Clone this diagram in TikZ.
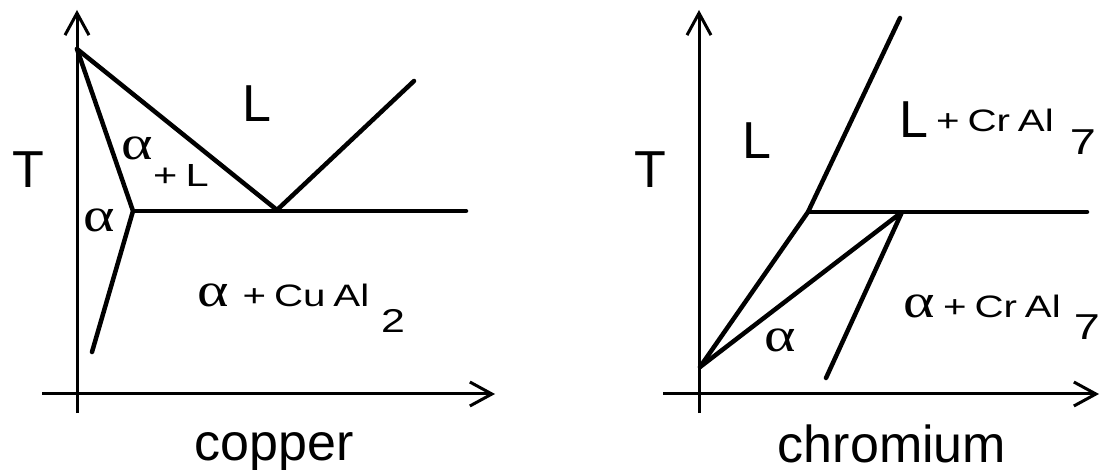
\documentclass[tikz,border=0pt]{standalone}
\usepackage{fontspec}
\setmainfont{Liberation Sans}
\newfontfamily\grk[FakeStretch=1.25]{Liberation Serif}
\newfontfamily\widesans[FakeStretch=1.3,WordSpace=0.7]{Liberation Sans}
\usetikzlibrary{arrows.meta}
\begin{document}
\begin{tikzpicture}[x=1pt,y=-1pt,
  axis/.style={line width=3pt,-{Straight Barb[length=22pt,width=24pt,line width=3pt]}},
  phase/.style={line width=4.5pt,line cap=round,line join=round},
  lbl/.style={inner sep=0pt,anchor=base,font=\fontsize{52}{60}\selectfont},
  midtxt/.style={inner sep=0pt,anchor=base,font=\widesans\fontsize{31}{38}\selectfont},
  subtxt/.style={inner sep=0pt,anchor=base,font=\widesans\fontsize{33}{40}\selectfont},
  alf/.style={inner sep=0pt,anchor=base,font=\grk\fontsize{48}{56}\selectfont}]
\useasboundingbox (0,0) rectangle (1101,470);
% ---------- copper ----------
\coordinate (ly0) at (77,413);
\coordinate (ly1) at (77,10);
\coordinate (lx0) at (42,394);
\coordinate (lx1) at (495,394);
\draw[axis] (ly0) -- (ly1);
\draw[axis] (lx0) -- (lx1);
\coordinate (tm) at (77,49);
\coordinate (eu) at (277,210);
\coordinate (lr) at (414,81);
\coordinate (sp) at (133,211);
\coordinate (sv) at (92,352);
\coordinate (he) at (466,211);
\draw[phase] (tm) -- (eu) -- (lr);
\draw[phase] (tm) -- (sp) -- (sv);
\draw[phase] (sp) -- (he);
\node[lbl] (T1) at (28,188) {T};
\node[lbl] (L1) at (257,122) {L};
\node[alf] (a1) at (137,160) {α};
\node[midtxt,font=\widesans\fontsize{32}{38}\selectfont] (pL) at (181,187) {+ L};
\node[alf] (a2) at (99,232) {α};
\node[alf] (a3) at (213,307) {α};
\node[midtxt] (cu) at (306,307) {+ Cu Al};
\node[subtxt] (c2) at (393,333) {2};
\node[lbl] (cop) at (274,460) {copper};
% ---------- chromium ----------
\coordinate (ry0) at (699,413);
\coordinate (ry1) at (699,10);
\coordinate (rx0) at (663,394);
\coordinate (rx1) at (1099,394);
\draw[axis] (ry0) -- (ry1);
\draw[axis] (rx0) -- (rx1);
\coordinate (bp) at (700,367);
\coordinate (kn) at (808,212);
\coordinate (tp) at (900,18);
\coordinate (pe) at (902,212);
\coordinate (hr) at (1087,212);
\coordinate (bt) at (826,378);
\draw[phase] (bp) -- (kn) -- (tp);
\draw[phase] (kn) -- (hr);
\draw[phase] (bp) -- (pe) -- (bt);
\node[lbl] (T2) at (650,188) {T};
\node[lbl] (L2) at (757,159) {L};
\node[lbl] (L3) at (914,138) {L};
\node[midtxt] (cr1) at (995,132) {+ Cr Al};
\node[subtxt,font=\widesans\fontsize{36}{42}\selectfont] (s71) at (1083,155) {7};
\node[alf] (a4) at (919,318) {α};
\node[midtxt] (cr2) at (1002,318) {+ Cr Al};
\node[subtxt,font=\widesans\fontsize{36}{42}\selectfont] (s72) at (1087,340) {7};
\node[alf] (a5) at (780,352) {α};
\node[lbl] (chr) at (892,462) {chromium};
\end{tikzpicture}
\end{document}
